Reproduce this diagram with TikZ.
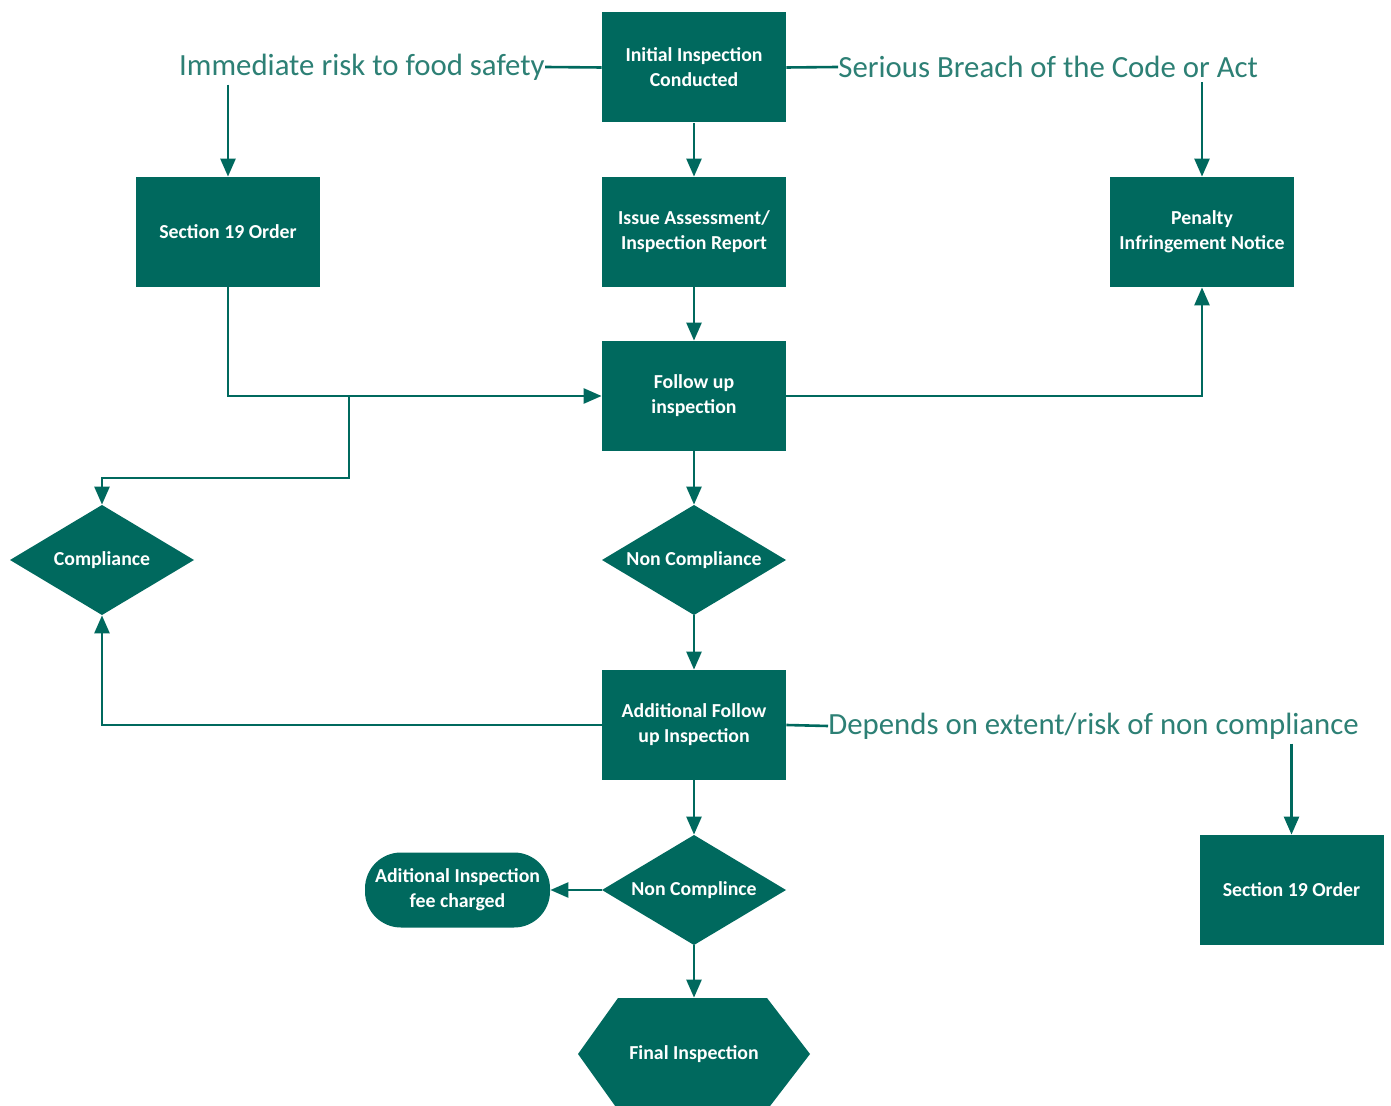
\documentclass[tikz,border=0pt]{standalone}
\usepackage{fontspec}
\setmainfont{Carlito}
\usetikzlibrary{arrows.meta}
\definecolor{tealbox}{RGB}{0,105,94}
\definecolor{tealtext}{RGB}{45,128,117}
\begin{document}
\begin{tikzpicture}[x=0.5pt,y=-0.5pt,
  boxtext/.style={text=white,font=\fontsize{9.9}{12.5}\selectfont\bfseries,align=center},
  box/.style={boxtext,fill=tealbox,minimum width=92pt,minimum height=55pt,inner sep=0pt},
  diam/.style={boxtext,minimum width=92pt,minimum height=55pt,inner sep=0pt,
    path picture={\fill[tealbox] (path picture bounding box.north) -- (path picture bounding box.east)
      -- (path picture bounding box.south) -- (path picture bounding box.west) -- cycle;}},
  hexa/.style={boxtext,minimum width=116pt,minimum height=56pt,inner sep=0pt,
    path picture={\fill[tealbox] ([xshift=20pt]path picture bounding box.north west)
      -- ([xshift=-21.5pt]path picture bounding box.north east) -- (path picture bounding box.east)
      -- ([xshift=-21.5pt]path picture bounding box.south east) -- ([xshift=20pt]path picture bounding box.south west)
      -- (path picture bounding box.west) -- cycle;}},
  pill/.style={boxtext,fill=tealbox,minimum width=92.5pt,minimum height=37.5pt,inner sep=0pt,rounded corners=18pt},
  lbl/.style={text=tealtext,font=\fontsize{15.4}{17}\selectfont,inner xsep=0pt,inner ysep=2pt},
  conn/.style={draw=tealbox,line width=1.3pt},
  arr/.style={conn,-{Triangle[length=9pt,width=7.5pt]}}
]
\clip (0,0) rectangle (1391,1106);
\fill[white] (0,0) rectangle (1391,1106);

\node[box] (init) at (694,67.5) {Initial Inspection\\Conducted};
\node[box] (issue) at (694,232) {Issue Assessment/\\Inspection Report};
\node[box] (s19l) at (228,232) {Section 19 Order};
\node[box] (pen) at (1202,232) {Penalty\\Infringement Notice};
\node[box] (fu) at (694,396) {Follow up\\inspection};
\node[diam] (comp) at (102,560) {Compliance};
\node[diam] (nc1) at (694,560) {Non Compliance};
\node[box] (afu) at (694,725) {Additional Follow\\up Inspection};
\node[diam] (nc2) at (694,890) {Non Complince};
\node[pill] (fee) at (457.5,890) {Aditional Inspection\\fee charged};
\node[hexa] (fin) at (694,1054) {Final Inspection};
\node[box] (s19r) at (1291.5,890) {Section 19 Order};

\node[lbl,anchor=east] (l1) at (545,67) {Immediate risk to food safety};
\node[lbl,anchor=west] (l2) at (838,67) {Serious Breach of the Code or Act};
\node[lbl,anchor=west] (l3) at (828,726) {Depends on extent/risk of non compliance};

\draw[conn] (init.west) -- (l1.east);
\draw[conn] (init.east) -- (l2.west);
\draw[conn] (afu.east) -- (l3.west);
\draw[arr] (l1.south -| s19l.north) -- (s19l.north);
\draw[arr] (l2.south -| pen.north) -- (pen.north);
\draw[arr] (l3.south -| s19r.north) -- (s19r.north);

\draw[arr] (init) -- (issue);
\draw[arr] (issue) -- (fu);
\draw[arr] (s19l.south) |- (fu.west);
\coordinate (j1) at (349,396);
\coordinate (j2) at (349,478);
\draw[arr] (j1) -- (j2) -| (comp.north);
\draw[arr] (fu.east) -| (pen.south);
\draw[arr] (fu) -- (nc1);
\draw[arr] (nc1) -- (afu);
\draw[arr] (afu.west) -| (comp.south);
\draw[arr] (afu) -- (nc2);
\draw[arr] (nc2.west) -- (fee.east);
\draw[arr] (nc2) -- (fin);
\end{tikzpicture}
\end{document}
